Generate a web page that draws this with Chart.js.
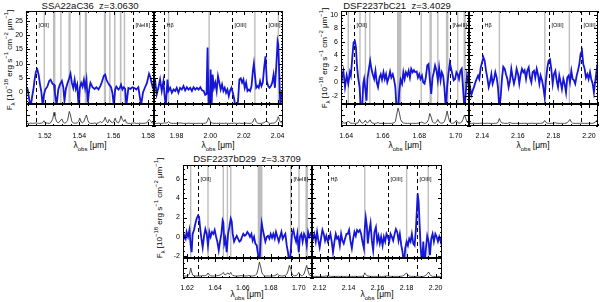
<!DOCTYPE html>
<html>
<head>
<meta charset="utf-8">
<script src="https://cdn.jsdelivr.net/npm/chart.js@4.4.1/dist/chart.umd.min.js"></script>
<style>
  body { margin: 0; width: 600px; height: 302px; overflow: hidden; position: relative; background: #fff;
         font-family: "Liberation Sans", Arial, sans-serif; color: #000; }
  canvas { position: absolute; }
  .ttl { position: absolute; font-size: 9.5px; white-space: pre; transform: translateX(-50%); line-height: 1; color: #111; }
  .xl { position: absolute; font-size: 8.5px; white-space: nowrap; transform: translateX(-50%); line-height: 1; }
  .yl { position: absolute; font-size: 8px; white-space: nowrap; line-height: 1;
        transform: translate(-50%, -50%) rotate(-90deg); }
  sub, sup { font-size: 6px; line-height: 0; }
</style>
</head>
<body>
<div class="ttl" style="left:90px;top:1px">SSA22aC36  z=3.0630</div>
<div class="ttl" style="left:397px;top:1px">DSF2237bC21  z=3.4029</div>
<div class="ttl" style="left:247px;top:154px">DSF2237bD29  z=3.3709</div>

<div class="yl" style="left:10px;top:60px">F<sub>λ</sub> [10<sup>−18</sup> erg s<sup>−1</sup> cm<sup>−2</sup> μm<sup>−1</sup>]</div>
<div class="yl" style="left:325px;top:58px">F<sub>λ</sub> [10<sup>−18</sup> erg s<sup>−1</sup> cm<sup>−2</sup> μm<sup>−1</sup>]</div>
<div class="yl" style="left:160px;top:208px">F<sub>λ</sub> [10<sup>−18</sup> erg s<sup>−1</sup> cm<sup>−2</sup> μm<sup>−1</sup>]</div>

<div class="xl" style="left:90px;top:141px">λ<sub>obs</sub> [μm]</div>
<div class="xl" style="left:218px;top:141px">λ<sub>obs</sub> [μm]</div>
<div class="xl" style="left:405px;top:141px">λ<sub>obs</sub> [μm]</div>
<div class="xl" style="left:533px;top:141px">λ<sub>obs</sub> [μm]</div>
<div class="xl" style="left:247px;top:290px">λ<sub>obs</sub> [μm]</div>
<div class="xl" style="left:377px;top:290px">λ<sub>obs</sub> [μm]</div>

<script>
// ---- data: SSA22aC36 (A), DSF2237bC21 (B), DSF2237bD29 (C); 1 = H band, 2 = K band ----

const wlA1 = [
  1.5090,1.5100,1.5109,1.5117,1.5127,1.5133,1.5140,1.5148,1.5156,1.5164,
  1.5171,1.5179,1.5187,1.5194,1.5202,1.5214,1.5225,1.5233,1.5245,1.5253,
  1.5258,1.5268,1.5278,1.5287,1.5299,1.5307,1.5314,1.5322,1.5332,1.5342,
  1.5349,1.5357,1.5365,1.5373,1.5380,1.5388,1.5396,1.5403,1.5411,1.5419,
  1.5427,1.5434,1.5442,1.5450,1.5458,1.5465,1.5477,1.5489,1.5500,1.5512,
  1.5523,1.5531,1.5543,1.5551,1.5558,1.5566,1.5574,1.5585,1.5593,1.5601,
  1.5609,1.5616,1.5628,1.5636,1.5643,1.5651,1.5659,1.5667,1.5674,1.5686,
  1.5698,1.5709,1.5721,1.5732,1.5744,1.5752,1.5760,1.5771,1.5783,1.5794,
  1.5806,1.5814,1.5821,1.5829,1.5835];
const fluxA1 = [
  2.0,1.0,-2.5,-5,-1.0,1.0,4.4,7.3,8.0,6.0,
  3.0,0.3,-4.5,-1.0,1.0,2.0,4.0,4.4,3.0,2.7,
  0.0,-4.5,1.0,2.7,4.0,1.8,-3.0,1.2,3.3,5.0,
  6.5,3.3,1.5,4.4,1.2,2.7,-4.5,1.5,3.3,2.0,
  4.4,1.5,4.4,-3.5,1.0,3.3,1.8,1.2,1.8,1.0,
  2.3,3.5,5.8,6.2,4.4,3.5,2.7,1.8,-0.2,-4.5,
  1.0,2.0,1.0,1.5,2.7,1.0,1.8,1.2,-4.5,1.5,
  1.2,1.8,1.5,1.0,1.8,-1.4,-4.5,0.0,1.8,3.3,
  6.5,5.3,3.3,1.5,1.0];
const noiseA1 = [
  .14,.12,.12,.13,.12,.12,.13,.14,.13,.12,
  .12,.13,.15,.24,.14,.13,.12,.14,.30,.62,
  .45,.20,.14,.22,.32,.16,.13,.15,.25,.66,
  .50,.20,.14,.13,.13,.14,.20,.36,.18,.15,
  .20,.36,.50,.25,.14,.12,.12,.13,.12,.14,
  .20,.15,.24,.40,.22,.14,.30,.18,.15,.20,
  .36,.20,.14,.25,.46,.30,.20,.30,.15,.12,
  .12,.13,.14,.12,.12,.13,.12,.12,.13,.15,
  .30,.25,.15,.14,.13];

const wlA2 = [
  1.9666,1.9672,1.9682,1.9692,1.9702,1.9712,1.9722,1.9728,1.9736,1.9746,
  1.9752,1.9762,1.9772,1.9782,1.9792,1.9801,1.9811,1.9821,1.9831,1.9841,
  1.9851,1.9861,1.9871,1.9881,1.9891,1.9901,1.9911,1.9921,1.9931,1.9941,
  1.9951,1.9961,1.9970,1.9978,1.9984,1.9990,1.9998,2.0002,2.0008,2.0014,
  2.0022,2.0030,2.0038,2.0046,2.0054,2.0062,2.0070,2.0078,2.0086,2.0094,
  2.0102,2.0110,2.0118,2.0126,2.0134,2.0141,2.0149,2.0157,2.0165,2.0173,
  2.0181,2.0189,2.0197,2.0205,2.0213,2.0221,2.0229,2.0237,2.0245,2.0253,
  2.0259,2.0265,2.0273,2.0281,2.0288,2.0296,2.0304,2.0312,2.0320,2.0328,
  2.0336,2.0344,2.0352,2.0360,2.0368,2.0376,2.0384,2.0392,2.0400,2.0404,
  2.0410,2.0416,2.0424,2.0432];
const fluxA2 = [
  4.8,4.5,-0.7,1.6,4.5,0.5,3.9,-0.5,-5,4.5,
  0.5,1.6,-0.1,1.0,0.5,1.6,-0.1,1.6,1.0,2.2,
  0.7,1.8,1.0,1.6,0.5,1.8,1.0,1.6,1.0,1.8,
  0.7,0.5,-0.9,-0.6,15.7,-5,-5,8.0,-5,6.2,
  1.6,3.4,0.5,5.7,3.4,1.0,2.8,0.5,1.6,-0.1,
  1.0,-1.3,0.7,1.6,-0.1,-1.9,-5,-5,-3.0,4.5,
  4.9,3.4,4.5,1.6,3.4,0.5,1.0,0.5,2.2,7.4,
  10.0,6.2,1.6,2.2,1.6,3.9,2.2,3.4,8.6,12.6,
  3.9,2.2,1.6,2.2,3.4,6.2,1.6,9.1,17.8,16.7,
  6.2,-5,-0.1,1.0];
const noiseA2 = [
  .13,.12,.12,.13,.12,.12,.13,.14,.13,.15,
  .20,.14,.12,.12,.12,.12,.13,.14,.13,.12,
  .12,.12,.13,.12,.12,.12,.12,.12,.12,.12,
  .12,.12,.13,.15,.25,.38,.25,.18,.15,.13,
  .12,.12,.12,.12,.13,.12,.12,.12,.12,.13,
  .12,.12,.12,.12,.12,.14,.12,.12,.12,.13,
  .12,.12,.12,.12,.13,.12,.12,.12,.13,.18,
  .30,.35,.18,.13,.12,.12,.12,.13,.15,.20,
  .23,.15,.12,.12,.13,.13,.15,.20,.32,.42,
  .30,.18,.14,.13];

const wlB1 = [
  1.6371,1.6375,1.6384,1.6393,1.6402,1.6411,1.6420,1.6425,1.6433,1.6440,
  1.6447,1.6453,1.6458,1.6465,1.6473,1.6480,1.6487,1.6493,1.6498,1.6505,
  1.6511,1.6516,1.6524,1.6531,1.6538,1.6545,1.6553,1.6560,1.6567,1.6574,
  1.6582,1.6589,1.6596,1.6604,1.6611,1.6618,1.6625,1.6633,1.6640,1.6647,
  1.6655,1.6662,1.6669,1.6676,1.6684,1.6691,1.6698,1.6706,1.6713,1.6720,
  1.6727,1.6735,1.6742,1.6749,1.6756,1.6764,1.6771,1.6778,1.6786,1.6793,
  1.6800,1.6807,1.6815,1.6822,1.6829,1.6836,1.6844,1.6851,1.6858,1.6866,
  1.6873,1.6880,1.6887,1.6895,1.6902,1.6909,1.6917,1.6924,1.6931,1.6938,
  1.6946,1.6953,1.6960,1.6968,1.6975,1.6982,1.6989,1.6997,1.7004,1.7011,
  1.7018,1.7026,1.7033,1.7040,1.7048,1.7055,1.7062,1.7069,1.7077];
const fluxB1 = [
  0.0,0.5,1.7,-0.7,1.0,-0.2,1.5,1.0,3.7,5.9,
  6.1,5.2,2.7,0.7,-0.7,-4,-4,-0.2,0.5,-1.2,
  -2.7,0.5,2.0,3.2,2.0,1.2,0.5,1.7,0.0,-0.7,
  0.7,1.2,0.4,1.5,0.5,1.2,0.0,0.7,1.6,0.7,
  1.2,0.4,-0.7,-4,-4,-1.2,0.4,-0.2,1.5,0.5,
  1.5,1.0,1.7,0.7,2.0,1.5,1.8,1.5,1.6,0.7,
  1.2,0.5,1.0,0.0,-0.2,0.7,2.5,2.7,0.5,-1.7,
  0.7,1.5,2.5,1.7,0.3,2.2,0.3,1.5,1.0,-0.7,
  -4,-0.7,1.2,2.9,2.0,1.2,0.3,0.5,1.5,1.2,
  0.5,1.7,2.0,-0.7,-4,-1.7,1.0,0.0,0.8];
const noiseB1 = [
  .12,.12,.14,.13,.15,.23,.14,.13,.12,.13,
  .12,.12,.13,.15,.30,.18,.13,.14,.18,.26,
  .16,.15,.20,.28,.16,.13,.12,.12,.13,.16,
  .12,.12,.12,.12,.12,.12,.12,.12,.12,.12,
  .13,.14,.20,.50,.82,.60,.30,.18,.14,.13,
  .12,.12,.12,.12,.12,.12,.12,.12,.12,.13,
  .13,.16,.18,.14,.12,.13,.18,.30,.57,.40,
  .18,.14,.13,.18,.30,.18,.14,.13,.14,.20,
  .40,.68,.40,.18,.13,.12,.14,.18,.26,.16,
  .13,.14,.18,.30,.50,.35,.18,.14,.13];

const wlB2 = [
  2.1325,2.1331,2.1338,2.1346,2.1353,2.1361,2.1368,2.1376,2.1383,2.1391,
  2.1398,2.1406,2.1413,2.1421,2.1428,2.1436,2.1443,2.1451,2.1458,2.1466,
  2.1473,2.1481,2.1488,2.1496,2.1503,2.1511,2.1518,2.1526,2.1533,2.1541,
  2.1548,2.1556,2.1563,2.1571,2.1578,2.1586,2.1593,2.1601,2.1608,2.1616,
  2.1623,2.1631,2.1638,2.1646,2.1653,2.1661,2.1668,2.1676,2.1683,2.1691,
  2.1698,2.1706,2.1713,2.1721,2.1728,2.1736,2.1743,2.1751,2.1758,2.1766,
  2.1773,2.1781,2.1788,2.1796,2.1803,2.1811,2.1818,2.1826,2.1833,2.1841,
  2.1848,2.1856,2.1863,2.1871,2.1878,2.1886,2.1893,2.1901,2.1908,2.1916,
  2.1923,2.1931,2.1938,2.1946,2.1953,2.1961,2.1968,2.1976,2.1983,2.1991,
  2.1998,2.2006,2.2013,2.2021,2.2028,2.2036,2.2043,2.2051];
const fluxB2 = [
  0.5,-0.7,-1.9,-1.2,-0.7,0.0,0.5,1.0,0.5,2.2,
  2.9,3.7,3.2,1.7,0.7,-0.7,0.0,1.2,-0.2,0.5,
  1.5,0.7,-0.7,-4,-2.2,0.7,2.3,2.0,1.2,0.5,
  -0.7,0.3,2.0,0.7,-0.2,0.7,2.0,1.2,-0.2,1.2,
  2.0,1.5,1.8,0.5,1.7,2.2,0.7,0.0,1.5,1.7,
  0.7,2.0,1.2,-0.2,1.0,0.3,-0.7,-2.2,0.3,2.2,
  3.2,3.4,2.0,-0.2,1.2,1.7,0.3,-0.7,1.0,0.0,
  -1.0,0.5,-0.2,-1.5,0.7,1.0,0.0,1.7,0.5,0.3,
  -0.2,1.0,1.7,2.7,4.2,4.7,2.7,2.0,0.7,1.2,
  0.5,1.5,0.5,-0.2,-1.5,0.3,1.7,-0.5];
const noiseB2 = [
  .12,.12,.12,.12,.13,.12,.12,.12,.12,.13,
  .13,.12,.12,.12,.13,.12,.12,.12,.12,.12,
  .12,.13,.16,.34,.20,.14,.13,.12,.12,.12,
  .14,.16,.13,.12,.12,.12,.12,.12,.12,.12,
  .12,.12,.12,.12,.12,.12,.12,.13,.12,.12,
  .12,.12,.12,.12,.12,.13,.15,.25,.16,.13,
  .12,.12,.12,.12,.13,.15,.13,.12,.12,.12,
  .12,.12,.12,.13,.15,.22,.30,.18,.13,.12,
  .12,.12,.12,.12,.13,.13,.12,.12,.12,.12,
  .12,.13,.12,.12,.14,.18,.25,.16];

const wlC1 = [
  1.6171,1.6181,1.6190,1.6197,1.6207,1.6217,1.6226,1.6233,1.6240,1.6250,
  1.6260,1.6269,1.6279,1.6286,1.6293,1.6303,1.6312,1.6322,1.6331,1.6341,
  1.6350,1.6360,1.6369,1.6379,1.6389,1.6398,1.6408,1.6417,1.6427,1.6436,
  1.6446,1.6455,1.6460,1.6467,1.6475,1.6484,1.6494,1.6503,1.6513,1.6520,
  1.6527,1.6537,1.6546,1.6556,1.6565,1.6575,1.6584,1.6594,1.6603,1.6613,
  1.6622,1.6632,1.6642,1.6651,1.6661,1.6670,1.6680,1.6689,1.6699,1.6709,
  1.6718,1.6728,1.6735,1.6742,1.6752,1.6761,1.6771,1.6780,1.6790,1.6799,
  1.6809,1.6818,1.6828,1.6837,1.6847,1.6857,1.6866,1.6876,1.6885,1.6895,
  1.6904,1.6914,1.6923,1.6933,1.6943,1.6952,1.6962,1.6971,1.6981,1.6990,
  1.7000,1.7009,1.7019,1.7028,1.7038,1.7047,1.7057,1.7067,1.7076,1.7086,
  1.7095];
const fluxC1 = [
  -0.5,0.1,-0.2,0.5,0.0,0.7,-0.9,-1.6,0.3,0.7,
  1.4,1.9,2.2,2.1,1.0,-0.2,-1.1,0.1,0.8,0.3,
  -0.9,0.5,0.0,0.5,0.3,0.7,0.0,-0.5,-1.4,-0.5,
  0.3,1.7,1.5,-0.7,-0.2,-1.6,0.3,1.0,1.9,1.6,
  0.3,-0.5,-0.2,0.1,-0.2,-0.5,-0.4,0.0,0.3,0.1,
  0.2,0.5,0.3,0.0,0.3,-0.4,0.0,-0.7,-0.9,-1.9,
  -3,0.0,1.4,0.8,0.1,-0.5,0.0,0.1,-0.2,0.3,
  -0.1,0.3,-0.2,0.5,0.0,-0.5,0.0,0.5,-0.2,0.1,
  0.3,-0.9,-1.6,-3,-1.4,0.3,0.7,0.0,-0.5,0.3,
  -1.6,0.0,0.3,-0.5,0.3,0.0,-0.9,0.5,0.0,0.3,
  0.2];
const noiseC1 = [
  .10,.10,.10,.10,.12,.20,.50,.30,.15,.11,
  .10,.10,.10,.10,.10,.11,.12,.11,.12,.15,
  .25,.15,.11,.10,.10,.10,.11,.12,.13,.15,
  .18,.25,.28,.18,.15,.22,.25,.18,.28,.18,
  .13,.11,.10,.10,.10,.11,.12,.11,.10,.10,
  .10,.11,.12,.11,.10,.10,.11,.13,.20,.45,
  .80,.55,.30,.18,.12,.10,.10,.10,.10,.10,
  .10,.11,.12,.15,.20,.14,.11,.10,.10,.11,
  .13,.18,.35,.63,.45,.20,.13,.11,.12,.16,
  .28,.18,.12,.13,.20,.40,.63,.35,.15,.12,
  .11];

const wlC2 = [
  2.1147,2.1154,2.1163,2.1173,2.1182,2.1191,2.1200,2.1209,2.1219,2.1228,
  2.1237,2.1246,2.1256,2.1265,2.1274,2.1283,2.1292,2.1302,2.1311,2.1320,
  2.1329,2.1339,2.1348,2.1357,2.1366,2.1375,2.1385,2.1394,2.1403,2.1412,
  2.1422,2.1431,2.1440,2.1449,2.1458,2.1468,2.1477,2.1486,2.1495,2.1505,
  2.1511,2.1518,2.1525,2.1532,2.1541,2.1551,2.1560,2.1569,2.1578,2.1588,
  2.1597,2.1606,2.1615,2.1624,2.1634,2.1643,2.1652,2.1661,2.1670,2.1680,
  2.1689,2.1698,2.1707,2.1717,2.1726,2.1735,2.1744,2.1753,2.1763,2.1772,
  2.1781,2.1790,2.1800,2.1809,2.1818,2.1827,2.1836,2.1846,2.1855,2.1864,
  2.1871,2.1876,2.1883,2.1889,2.1896,2.1906,2.1915,2.1924,2.1933,2.1942,
  2.1952,2.1961,2.1970,2.1979,2.1988,2.1998,2.2007,2.2016,2.2025,2.2035,
  2.2044];
const fluxC2 = [
  0.3,-0.2,0.3,-0.5,0.5,-0.4,-1.1,-0.2,0.7,0.3,
  -0.4,0.1,-0.5,-0.2,0.3,-0.5,-1.6,-0.5,0.3,-0.2,
  0.0,-0.9,0.3,-0.4,-0.7,-0.2,0.3,0.3,0.7,-0.4,
  -1.2,-0.2,0.5,0.1,0.7,0.5,0.7,0.3,-0.5,-1.2,
  0.8,2.0,1.2,-0.7,0.5,1.4,-0.4,-1.4,0.5,1.0,
  -0.5,0.1,-0.7,0.0,-0.9,0.0,-0.5,0.3,0.0,-0.5,
  0.3,0.0,-0.4,0.3,0.8,0.5,-0.4,0.3,-0.9,-1.6,
  -3,-1.2,-0.5,-0.9,-0.2,-0.5,0.3,-0.7,-0.9,0.8,
  2.9,4.5,3.6,1.5,-0.9,-3,-0.5,-3,-1.2,0.1,
  -0.5,-1.9,-0.2,0.3,-0.5,0.3,0.0,-0.5,0.0,-0.5,
  0.2];
const noiseC2 = [
  .08,.08,.08,.08,.08,.08,.08,.08,.08,.08,
  .09,.10,.12,.10,.08,.08,.08,.08,.08,.08,
  .08,.08,.08,.08,.08,.08,.08,.08,.08,.08,
  .08,.08,.08,.08,.08,.08,.08,.08,.09,.14,
  .26,.18,.12,.10,.09,.08,.08,.08,.08,.08,
  .08,.08,.08,.08,.08,.08,.09,.10,.11,.09,
  .08,.08,.08,.08,.08,.08,.08,.08,.09,.10,
  .14,.20,.25,.15,.10,.08,.08,.08,.08,.08,
  .09,.09,.09,.08,.08,.08,.08,.10,.14,.20,
  .30,.18,.10,.08,.08,.08,.08,.08,.08,.08,
  .08];

// sky-line masks [from, to] in micron
const bandsA1 = [[1.5194,1.5199],[1.5247,1.5261],[1.5291,1.5295],[1.5337,1.5350],[1.5400,1.5408],
  [1.5432,1.5445],[1.5543,1.5556],[1.5576,1.5580],[1.5602,1.5611],[1.5636,1.5646],[1.5659,1.5667]];
const bandsA2 = [[1.9750,1.9755],[1.9991,1.9996],[2.0261,2.0269],[2.0402,2.0407]];
const bandsB1 = [[1.6408,1.6414],[1.6473,1.6477],[1.6503,1.6507],[1.6527,1.6531],[1.6678,1.6702],
  [1.6809,1.6813],[1.6856,1.6869],[1.6900,1.6904],[1.6946,1.6960],[1.7009,1.7013],[1.7043,1.7056]];
const bandsB2 = [[2.1494,2.1498],[2.1750,2.1754],[2.1888,2.1892]];
const bandsC1 = [[1.6221,1.6231],[1.6348,1.6352],[1.6456,1.6464],[1.6487,1.6491],[1.6511,1.6515],
  [1.6706,1.6740],[1.6940,1.6945],[1.7000,1.7004],[1.7048,1.7066]];
const bandsC2 = [[2.1509,2.1513],[2.1798,2.1802],[2.1947,2.1951]];

// expected emission lines
const linesA1 = [[1.5149, '[OII]'], [1.5715, '[NeIII]']];
const linesA2 = [[1.9726, 'Hβ'], [2.0131, '[OIII]'], [2.0334, '[OIII]']];
const linesB1 = [[1.6440, '[OII]'], [1.6967, '[NeIII]']];
const linesB2 = [[2.1398, 'Hβ'], [2.1775, '[OIII]'], [2.1957, '[OIII]']];
const linesC1 = [[1.6278, '[OII]'], [1.6942, '[NeIII]']];
const linesC2 = [[2.1258, 'Hβ'], [2.1673, '[OIII]'], [2.1873, '[OIII]']];

// tick labels
const xTicksA1 = [1.52, 1.54, 1.56, 1.58];
const xTicksA2 = [1.98, 2.00, 2.02, 2.04];
const xTicksB1 = [1.64, 1.66, 1.68, 1.70];
const xTicksB2 = [2.14, 2.16, 2.18, 2.20];
const xTicksC1 = [1.62, 1.64, 1.66, 1.68, 1.70];
const xTicksC2 = [2.12, 2.14, 2.16, 2.18, 2.20];
const yTicksA = [0, 5, 10, 15, 20, 25];
const yTicksB = [-2, 0, 2, 4, 6, 8, 10];
const yTicksC = [-2, 0, 2, 4, 6];

// ---- layout ----
const panels = [
  { x0: 26, xm: 154, x1: 283, y0: 11, ys: 104, y1: 126, yr: [-4.05, 28.4], yt: yTicksA, ym: 1,
    h: { wl: wlA1, f: fluxA1, n: noiseA1, xr: [1.5090, 1.5835], xt: xTicksA1, b: bandsA1, l: linesA1 },
    k: { wl: wlA2, f: fluxA2, n: noiseA2, xr: [1.9666, 2.0432], xt: xTicksA2, b: bandsA2, l: linesA2 } },
  { x0: 341, xm: 469, x1: 598, y0: 11, ys: 104, y1: 126, yr: [-3.2, 10.55], yt: yTicksB, ym: 0.5,
    h: { wl: wlB1, f: fluxB1, n: noiseB1, xr: [1.6371, 1.7073], xt: xTicksB1, b: bandsB1, l: linesB1 },
    k: { wl: wlB2, f: fluxB2, n: noiseB2, xr: [2.1325, 2.2051], xt: xTicksB2, b: bandsB2, l: linesB2 } },
  { x0: 183, xm: 312, x1: 442, y0: 165, ys: 258, y1: 278, yr: [-2.2, 7.45], yt: yTicksC, ym: 0.5,
    h: { wl: wlC1, f: fluxC1, n: noiseC1, xr: [1.6171, 1.7095], xt: xTicksC1, b: bandsC1, l: linesC1 },
    k: { wl: wlC2, f: fluxC2, n: noiseC2, xr: [2.1147, 2.2044], xt: xTicksC2, b: bandsC2, l: linesC2 } }
];

const FONT = '"Liberation Sans", Arial, sans-serif';

function steps(range, st) {
  const out = [];
  for (let k = Math.ceil(range[0] / st - 1e-9); k * st <= range[1] + 1e-9; k++) out.push(k * st);
  return out;
}

// fixed axis box, no label overhang padding, so the plot area sits exactly on the frame
function pinAxis(size, horizontal) {
  return s => {
    if (horizontal) s.height = size; else s.width = size;
    s.paddingLeft = s.paddingRight = s.paddingTop = s.paddingBottom = 0;
  };
}

// box, inward ticks, sky masks, dashed line markers
function framePlugin(c) {
  return {
    id: 'frame',
    beforeDatasetsDraw(chart) {
      const { ctx, chartArea: a } = chart;
      const x = chart.scales.x;
      ctx.save();
      ctx.beginPath();
      ctx.rect(a.left, a.top, a.right - a.left, a.bottom - a.top);
      ctx.clip();
      ctx.fillStyle = '#bdbdbd';
      c.bands.forEach(([b0, b1]) => {
        const p0 = x.getPixelForValue(b0), p1 = x.getPixelForValue(b1);
        const w = Math.max(p1 - p0, 1.4);
        ctx.fillRect((p0 + p1) / 2 - w / 2, a.top, w, a.bottom - a.top);
      });
      ctx.strokeStyle = '#000';
      ctx.lineWidth = 1;
      ctx.setLineDash([4, 3]);
      c.lines.forEach(([w]) => {
        const p = Math.round(x.getPixelForValue(w)) + 0.5;
        ctx.beginPath();
        ctx.moveTo(p, a.top);
        ctx.lineTo(p, a.bottom);
        ctx.stroke();
      });
      ctx.restore();
    },
    afterDatasetsDraw(chart) {
      const { ctx, chartArea: a } = chart;
      const x = chart.scales.x, y = chart.scales.y;
      ctx.save();
      ctx.setLineDash([]);
      ctx.strokeStyle = '#000';
      ctx.lineWidth = 1;
      ctx.strokeRect(a.left + 0.5, a.top + 0.5, a.right - a.left - 1, a.bottom - a.top - 1);
      ctx.beginPath();
      const xt = (v, len) => {
        const p = Math.round(x.getPixelForValue(v)) + 0.5;
        ctx.moveTo(p, a.bottom); ctx.lineTo(p, a.bottom - len);
        ctx.moveTo(p, a.top); ctx.lineTo(p, a.top + len);
      };
      const yt = (v, len) => {
        const p = Math.round(y.getPixelForValue(v)) + 0.5;
        ctx.moveTo(a.left, p); ctx.lineTo(a.left + len, p);
        ctx.moveTo(a.right, p); ctx.lineTo(a.right - len, p);
      };
      steps(c.xr, 0.005).forEach(v => xt(v, 2));
      c.xticks.forEach(v => xt(v, 4));
      steps(c.yr, c.yminor).forEach(v => yt(v, 2));
      c.yticks.forEach(v => yt(v, 4));
      ctx.stroke();
      if (c.upper) {
        ctx.fillStyle = '#000';
        ctx.font = '5.5px ' + FONT;
        ctx.textBaseline = 'middle';
        c.lines.forEach(([w, txt]) => {
          ctx.fillText(txt, Math.round(x.getPixelForValue(w)) + 2.5, a.top + 14);
        });
      }
      ctx.restore();
    }
  };
}

function addChart(c) {
  const padL = c.yLab ? 24 : 2, padB = c.xLab ? 16 : 2;
  const w = c.x1 - c.x0 + padL + 2, h = c.y1 - c.y0 + padB + 2;
  const cv = document.createElement('canvas');
  cv.width = w; cv.height = h;
  cv.style.left = (c.x0 - padL) + 'px';
  cv.style.top = (c.y0 - 2) + 'px';
  cv.style.width = w + 'px';
  cv.style.height = h + 'px';
  document.body.appendChild(cv);

  const tickFont = { family: FONT, size: 7 };
  new Chart(cv, {
    type: 'line',
    data: {
      datasets: [{
        data: c.wl.map((v, i) => ({ x: v, y: c.vals[i] })),
        borderColor: c.color,
        borderWidth: c.lw,
        pointRadius: 0,
        tension: 0,
        fill: false,
        clip: 0
      }]
    },
    options: {
      responsive: false,
      animation: false,
      devicePixelRatio: 1,
      events: [],
      layout: { padding: 2, autoPadding: false },
      plugins: { legend: { display: false }, tooltip: { enabled: false } },
      scales: {
        x: {
          type: 'linear', min: c.xr[0], max: c.xr[1], display: c.xLab,
          grid: { display: false, drawTicks: false }, border: { display: false },
          ticks: { font: tickFont, color: '#000', padding: 6, maxRotation: 0, autoSkip: false,
                   callback: v => v.toFixed(2) },
          afterBuildTicks: s => { s.ticks = c.xticks.map(v => ({ value: v })); },
          afterFit: pinAxis(c.xLab ? 14 : 0, true)
        },
        y: {
          type: 'linear', min: c.yr[0], max: c.yr[1], display: c.yLab,
          grid: { display: false, drawTicks: false }, border: { display: false },
          ticks: { font: tickFont, color: '#000', padding: 3, autoSkip: false,
                   callback: v => String(v) },
          afterBuildTicks: s => { s.ticks = c.yticks.map(v => ({ value: v })); },
          afterFit: pinAxis(c.yLab ? 22 : 0, false)
        }
      }
    },
    plugins: [framePlugin(c)]
  });
}

panels.forEach(p => {
  [['h', p.x0, p.xm, true], ['k', p.xm, p.x1, false]].forEach(([band, xa, xb, left]) => {
    const s = p[band];
    // spectrum
    addChart({ x0: xa, x1: xb, y0: p.y0, y1: p.ys, wl: s.wl, vals: s.f, xr: s.xr, yr: p.yr,
               xticks: s.xt, yticks: p.yt, yminor: p.ym, bands: s.b, lines: s.l,
               yLab: left, xLab: false, upper: true, color: 'rgb(22,22,214)', lw: 1.8 });
    // noise
    addChart({ x0: xa, x1: xb, y0: p.ys, y1: p.y1, wl: s.wl, vals: s.n, xr: s.xr, yr: [0, 1],
               xticks: s.xt, yticks: [0.5], yminor: 0.25, bands: [], lines: s.l,
               yLab: false, xLab: true, upper: false, color: '#222', lw: 0.8 });
  });
});
</script>
</body>
</html>
